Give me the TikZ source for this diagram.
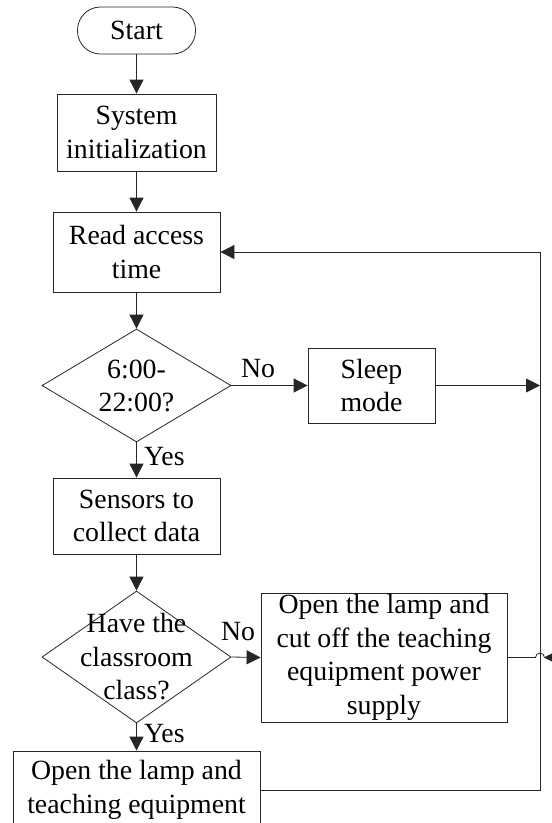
\documentclass[tikz,border=0pt]{standalone}
\usepackage{fontspec}
\setmainfont{Liberation Serif}
\usetikzlibrary{arrows.meta,shapes.geometric}
\begin{document}
\begin{tikzpicture}[x=1pt,y=-1pt,
  txt/.style={inner sep=0pt, align=center, font=\fontsize{27.8}{33.5}\selectfont},
  box/.style={txt, draw=black!85, line width=0.8pt, rectangle},
  term/.style={box, rounded corners=23pt},
  dia/.style={draw=black!85, line width=0.8pt, diamond, inner sep=0pt},
  lbl/.style={inner sep=0pt, font=\fontsize{27.8}{33}\selectfont},
  ln/.style={draw=black!85, line width=0.8pt},
  arr/.style={ln, -{Triangle[length=14pt,width=14pt]}}
]
\useasboundingbox (0,0) rectangle (552,823);
\clip (0,0) rectangle (552,823);

\node[term, minimum width=118pt, minimum height=47pt] (start) at (136.5,30.5) {Start};
\node[box, minimum width=159pt, minimum height=77pt] (init) at (136.5,132.5) {System\\initialization};
\node[box, minimum width=167pt, minimum height=80pt] (read) at (136.5,252) {Read access\\time};
\node[dia, minimum width=189pt, minimum height=113pt] (d1) at (136.5,385.5) {};
\node[txt] (d1t) at (136.5,386) {6:00-\\22:00?};
\node[box, minimum width=127pt, minimum height=75pt] (sleep) at (371.5,385.5) {Sleep\\mode};
\node[box, minimum width=167pt, minimum height=76pt] (sens) at (136.5,516) {Sensors to\\collect data};
\node[dia, minimum width=189pt, minimum height=132pt] (d2) at (136.5,657) {};
\node[txt] (d2t) at (136.5,657) {Have the\\classroom\\class?};
\node[box, minimum width=246pt, minimum height=129pt] (cut) at (384,657.5) {Open the lamp and\\cut off the teaching\\equipment power\\supply};
\node[box, minimum width=247pt, minimum height=78pt] (open) at (136.5,790) {Open the lamp and\\teaching equipment};

\node[lbl] (no1) at (258,369) {No};
\node[lbl, anchor=west] (yes1) at (144,457) {Yes};
\node[lbl] (no2) at (238,632) {No};
\node[lbl, anchor=west] (yes2) at (144,734) {Yes};

\coordinate (rt) at (540,252);
\coordinate (hopa) at (535.5,657.5);
\coordinate (tail) at (557,657.5);
\coordinate (tip) at (544,657.5);

\draw[arr] (start) -- (init);
\draw[arr] (init) -- (read);
\draw[arr] (read) -- (d1);
\draw[arr] (d1.east) -- (sleep.west);
\draw[arr] (d1.south) -- (sens.north);
\draw[arr] (sens) -- (d2);
\draw[arr] (d2.east) -- (cut.west);
\draw[arr] (d2.south) -- (open.north);

\draw[arr] (open.east) -| (rt) -- (read.east);
\draw[arr] (sleep.east) -- (sleep.east -| rt);
\draw[ln] (cut.east) -- (hopa) arc[start angle=180, end angle=0, radius=4.5pt];
\draw[arr] (tail) -- (tip);
\end{tikzpicture}
\end{document}
